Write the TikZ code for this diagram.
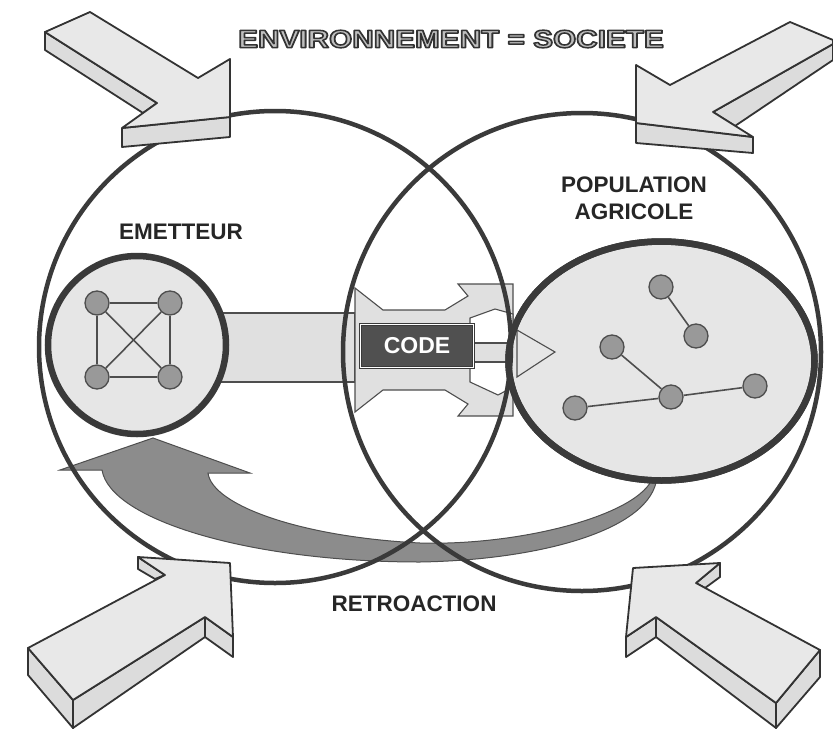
\documentclass[tikz,border=0pt]{standalone}
\usepackage{fontspec}
\setmainfont{Liberation Sans}
\usetikzlibrary{shapes.geometric}

\definecolor{ringc}{HTML}{3A3A3A}
\definecolor{facec}{HTML}{E6E6E6}
\definecolor{nodec}{HTML}{999999}
\definecolor{edgec}{HTML}{4E4E4E}
\definecolor{flowc}{HTML}{E0E0E0}
\definecolor{blocklinec}{HTML}{333333}
\definecolor{blocktopc}{HTML}{E8E8E8}
\definecolor{blocksidec}{HTML}{DCDCDC}
\definecolor{backflowc}{HTML}{8C8C8C}
\definecolor{codec}{HTML}{505050}
\definecolor{inkc}{HTML}{262626}
\definecolor{titlefillc}{HTML}{BEBEBE}

% outlined lettering: fill in the current colour, stroke in dark grey
\newcommand{\outlinedtext}[1]{{\color{titlefillc}%
  \special{pdf:literal direct 2 Tr 1.5 w 0.2 0.2 0.2 RG 1 j}#1}}

\begin{document}
\begin{tikzpicture}[x=1pt,y=-1pt,
  bigcircle/.style={circle, draw=ringc, line width=4.5pt, inner sep=0pt},
  groupring/.style={draw=ringc, line width=6.5pt, fill=facec, inner sep=0pt},
  member/.style={circle, draw=edgec, line width=1.3pt, fill=nodec, minimum size=24pt, inner sep=0pt},
  link/.style={draw=edgec, line width=1.6pt},
  flowpart/.style={draw=edgec, line width=1.1pt, fill=flowc, line join=miter},
  blockface/.style={draw=blocklinec, line width=1.8pt, fill=blocktopc, line join=round},
  blockedge/.style={draw=blocklinec, line width=1.8pt, fill=blocksidec, line join=round},
  backflow/.style={draw=edgec, line width=1pt, fill=backflowc},
  heading/.style={font=\bfseries\fontsize{22.5}{27}\selectfont, text=inkc, align=center, inner sep=0pt},
]
\useasboundingbox (0,0) rectangle (833,731);

% feedback arrow (population back to emitter)
\path[backflow] (153,438) -- (250,473) -- (208,473)
  .. controls (212,505) and (300,537) .. (420,543)
  .. controls (520,546) and (640,515) .. (653,477)
  -- (657,477)
  .. controls (652,530) and (540,560) .. (420,562)
  .. controls (250,562) and (110,520) .. (102,470)
  -- (60,470) -- cycle;

% message flow from emitter towards the population
\path[flowpart] (210,313) rectangle (355,382);
\path[flowpart] (355,288) -- (383,310) -- (445,310) -- (468,296) -- (458,284)
  -- (513,284) -- (513,416) -- (458,416) -- (468,404) -- (445,390)
  -- (383,390) -- (355,412) -- cycle;
\path[flowpart, fill=white] (470,318) -- (495,309) -- (513,314) -- (513,387)
  -- (498,395) -- (470,382) -- cycle;
\path[flowpart] (474,343) rectangle (511,362);

% population
\node[groupring, ellipse, minimum width=306pt, minimum height=239pt] (pop) at (661.5,361) {};
\path[flowpart, fill=facec] (517,330) -- (555,352) -- (517,377) -- cycle;
\node[draw=ringc, line width=6.5pt, ellipse, minimum width=306pt, minimum height=239pt, inner sep=0pt] (poprim) at (pop.center) {};

% environment / society
\node[bigcircle, minimum size=472pt] (envL) at (275,347) {};
\node[bigcircle, minimum size=478pt] (envR) at (582,352) {};

% emitter group
\node[groupring, circle, minimum size=178pt] (emit) at (137,345) {};
\node[member] (e1) at (97,303) {};
\node[member] (e2) at (170,303) {};
\node[member] (e3) at (97,377) {};
\node[member] (e4) at (170,377) {};
\draw[link] (e1) -- (e2);
\draw[link] (e3) -- (e4);
\draw[link] (e1) -- (e3);
\draw[link] (e2) -- (e4);
\draw[link] (e1) -- (e4);
\draw[link] (e2) -- (e3);

% population members
\node[member] (p1) at (661,287) {};
\node[member] (p2) at (696,336) {};
\node[member] (p3) at (612,347) {};
\node[member] (p4) at (671,397) {};
\node[member] (p5) at (755,386) {};
\node[member] (p6) at (575,408) {};
\draw[link] (p1) -- (p2);
\draw[link] (p3) -- (p4);
\draw[link] (p6) -- (p4);
\draw[link] (p4) -- (p5);

% code box
\node[draw=ringc, line width=0.8pt, double=white, double distance=1.2pt, fill=codec,
  minimum width=113pt, minimum height=43pt, inner sep=0pt,
  font=\bfseries\fontsize{23}{27}\selectfont, text=white] (code) at (417,346) {CODE};

% outside pressures: 3D block arrows
% top left
\path[blockedge] (45,32) -- (45,50) -- (143,113) -- (157,103) -- cycle;
\path[blockedge] (122,128) -- (230,117) -- (230,137) -- (122,147) -- cycle;
\path[blockface] (45,32) -- (90,12) -- (198,78) -- (230,59) -- (230,117)
  -- (122,128) -- (157,103) -- cycle;
% top right
\path[blockedge] (713,112) -- (833,44) -- (833,60) -- (735,126) -- cycle;
\path[blockedge] (636,123) -- (753,137) -- (753,153) -- (636,143) -- cycle;
\path[blockface] (790,22) -- (670,85) -- (636,65) -- (636,123) -- (753,137)
  -- (713,112) -- (833,44) -- (833,40) -- cycle;
% bottom left
\path[blockedge] (28,648) -- (73,700) -- (73,728) -- (28,675) -- cycle;
\path[blockedge] (73,700) -- (205,617) -- (205,637) -- (73,728) -- cycle;
\path[blockedge] (205,617) -- (233,637) -- (233,657) -- (205,637) -- cycle;
\path[blockedge] (138,557) -- (138,569) -- (155,579) -- (165,575) -- cycle;
\path[blockface] (28,648) -- (165,575) -- (138,557) -- (230,563) -- (233,637)
  -- (205,617) -- (73,700) -- cycle;
% bottom right
\path[blockedge] (776,703) -- (820,650) -- (820,677) -- (776,728) -- cycle;
\path[blockedge] (656,617) -- (776,703) -- (776,728) -- (656,637) -- cycle;
\path[blockedge] (626,637) -- (656,617) -- (656,637) -- (626,657) -- cycle;
\path[blockedge] (720,563) -- (720,577) -- (705,588) -- (696,583) -- cycle;
\path[blockface] (820,650) -- (696,583) -- (720,563) -- (633,568) -- (626,637)
  -- (656,617) -- (776,703) -- cycle;

% labels
\node[inner sep=0pt, font=\bfseries\fontsize{25}{30}\selectfont] (title) at (451,39)
  {\scalebox{1.19}[1]{\outlinedtext{ENVIRONNEMENT = SOCIETE}}};
\node[heading] (emitlabel) at (181,232) {EMETTEUR};
\node[heading] (poplabel) at (634,198) {POPULATION\\AGRICOLE};
\node[heading] (backlabel) at (414,604) {RETROACTION};
\end{tikzpicture}
\end{document}
